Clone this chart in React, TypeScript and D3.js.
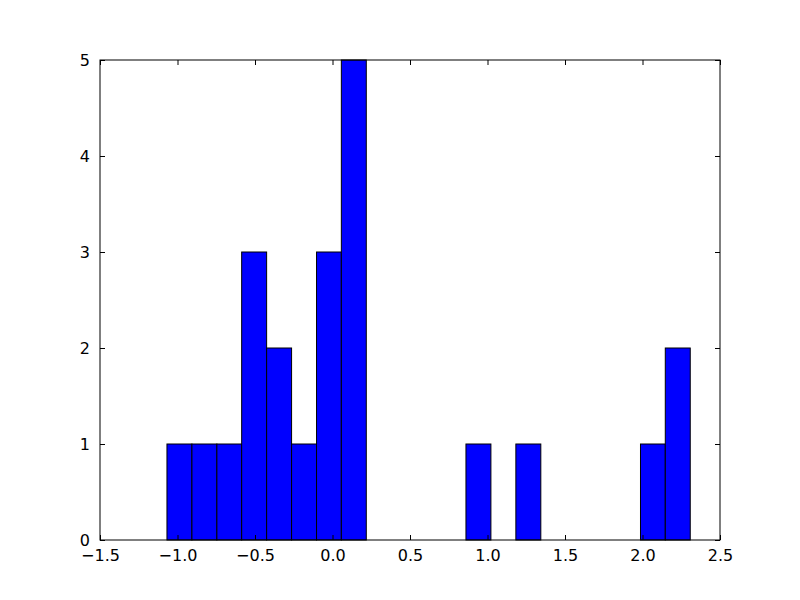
import { FC, useEffect, useRef } from 'react';
import * as d3 from 'd3';

// histogram bin edges (21 bins) and counts
const binEdges = [
  -1.068, -0.907, -0.746, -0.586, -0.425, -0.264, -0.103, 0.057, 0.218, 0.379,
  0.54, 0.701, 0.861, 1.022, 1.183, 1.344, 1.504, 1.665, 1.826, 1.987, 2.147, 2.308,
];
const counts = [1, 1, 1, 3, 2, 1, 3, 5, 0, 0, 0, 0, 1, 0, 1, 0, 0, 0, 0, 1, 2];
const xTicks = [-1.5, -1.0, -0.5, 0.0, 0.5, 1.0, 1.5, 2.0, 2.5];
const yTicks = [0, 1, 2, 3, 4, 5];

const App: FC = () => {
  const ref = useRef<SVGSVGElement>(null);

  useEffect(() => {
    const width = 800;
    const height = 600;
    const margin = { top: 60, right: 80, bottom: 60, left: 100 };
    const w = width - margin.left - margin.right;
    const h = height - margin.top - margin.bottom;

    const svg = d3.select(ref.current);
    svg.selectAll('*').remove();

    const g = svg
      .append('g')
      .attr('transform', `translate(${margin.left},${margin.top})`);

    const xScale = d3.scaleLinear().domain([-1.5, 2.5]).range([0, w]);
    const yScale = d3.scaleLinear().domain([0, 5]).range([h, 0]);

    const bins = counts.map((c, i) => ({ x0: binEdges[i], x1: binEdges[i + 1], c }));

    // bars
    g.selectAll('rect.bar')
      .data(bins.filter((b) => b.c > 0))
      .enter()
      .append('rect')
      .attr('class', 'bar')
      .attr('x', (d) => xScale(d.x0))
      .attr('width', (d) => xScale(d.x1) - xScale(d.x0))
      .attr('y', (d) => yScale(d.c))
      .attr('height', (d) => yScale(0) - yScale(d.c))
      .attr('fill', '#0000ff')
      .attr('stroke', '#000')
      .attr('stroke-width', 1);

    const fmtX = (d: number) => d3.format('.1f')(d).replace('-', '\u2212');
    const tickLen = 5;
    const font = 'DejaVu Sans, sans-serif';

    // bottom axis, ticks inward
    g.append('g')
      .attr('transform', `translate(0,${h})`)
      .call(
        d3
          .axisBottom(xScale)
          .tickValues(xTicks)
          .tickSizeInner(-tickLen)
          .tickSizeOuter(0)
          .tickPadding(10)
          .tickFormat((d) => fmtX(d as number))
      )
      .call((a) => a.select('.domain').remove())
      .call((a) => a.selectAll('text').attr('font-size', 16).attr('font-family', font).attr('fill', '#000'));

    // top ticks
    g.append('g')
      .call(d3.axisTop(xScale).tickValues(xTicks).tickSizeInner(-tickLen).tickSizeOuter(0).tickFormat(() => ''))
      .call((a) => a.select('.domain').remove());

    // left axis
    g.append('g')
      .call(
        d3
          .axisLeft(yScale)
          .tickValues(yTicks)
          .tickSizeInner(-tickLen)
          .tickSizeOuter(0)
          .tickPadding(10)
          .tickFormat(d3.format('d'))
      )
      .call((a) => a.select('.domain').remove())
      .call((a) => a.selectAll('text').attr('font-size', 16).attr('font-family', font).attr('fill', '#000'));

    // right ticks
    g.append('g')
      .attr('transform', `translate(${w},0)`)
      .call(d3.axisRight(yScale).tickValues(yTicks).tickSizeInner(-tickLen).tickSizeOuter(0).tickFormat(() => ''))
      .call((a) => a.select('.domain').remove());

    // frame
    g.append('rect')
      .attr('width', w)
      .attr('height', h)
      .attr('fill', 'none')
      .attr('stroke', '#000')
      .attr('stroke-width', 1);
  }, []);

  return (
    <div style={{ margin: -8 }}>
      <svg ref={ref} width={800} height={600} style={{ display: 'block', background: '#fff' }} />
    </div>
  );
};

export default App;
